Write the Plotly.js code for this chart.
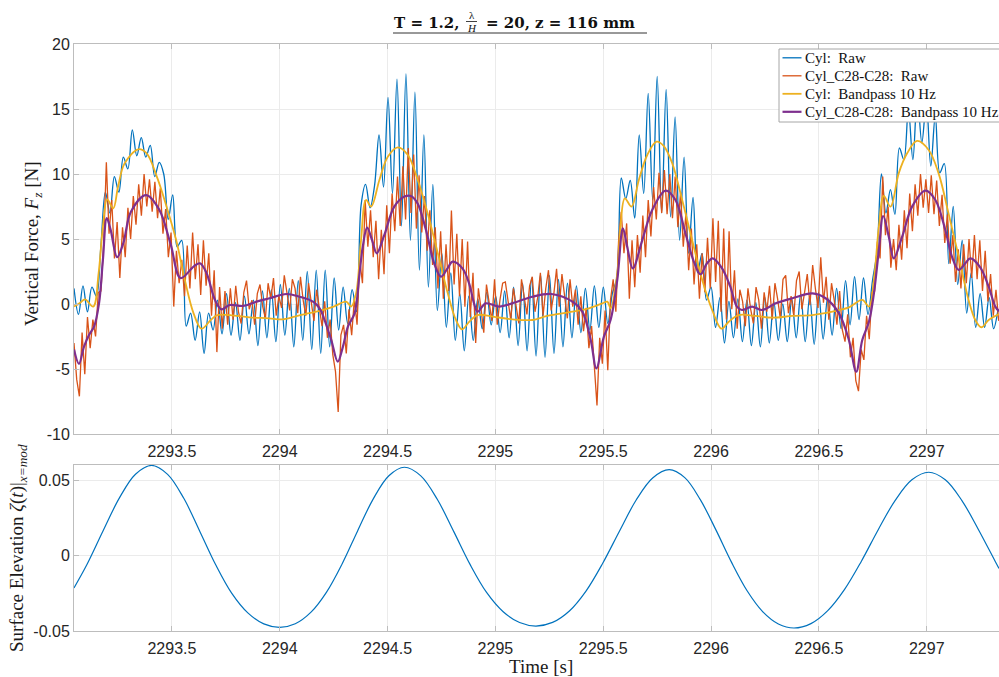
<!DOCTYPE html>
<html>
<head>
<meta charset="utf-8">
<script src="https://cdn.plot.ly/plotly-3.0.1.min.js"></script>
<style>
  html, body { margin: 0; padding: 0; background: #ffffff; }
  #chart { width: 999px; height: 677px; }
</style>
</head>
<body>
<div id="chart"></div>
<script>
// ---- Tick positions and labels ----
const timeTicks = [2293.5, 2294, 2294.5, 2295, 2295.5, 2296, 2296.5, 2297];
const timeTickText = ['2293.5', '2294', '2294.5', '2295', '2295.5', '2296', '2296.5', '2297'];
const forceTicks = [-10, -5, 0, 5, 10, 15, 20];
const forceTickText = ['-10', '-5', '0', '5', '10', '15', '20'];
const elevTicks = [-0.05, 0, 0.05];
const elevTickText = ['-0.05', '0', '0.05'];

// ---- Legend entries (order of the four force traces) ----
const seriesNames = ['Cyl:  Raw', 'Cyl_C28-C28:  Raw', 'Cyl:  Bandpass 10 Hz', 'Cyl_C28-C28:  Bandpass 10 Hz'];

// ---- Cyl: raw vertical force [N], sampled every 0.0208 s from t = 2293.046 s ----
const cylRawStart = 2293.046;
const cylRawStep = 0.0208;
const cylRaw = [
  1.2, -0.8, 1.4, -0.6, 1.3, 0.6, 4.5, 8.6, 7.0, 9.8,
  8.6, 11.3, 10.4, 13.4, 11.4, 12.8, 11.3, 12.2, 9.8, 10.9,
  10.0, 6.5, 8.4, 4.4, 4.9, -1.7, -0.7, -2.8, -0.6, -3.8,
  -0.7, -2.0, 0.3, -2.3, 0.8, -2.4, 0.1, -2.8, 0.6, -2.3,
  0.3, -3.2, 1.0, -2.6, 1.1, -2.9, 1.5, -2.4, 1.2, -3.3,
  1.8, -2.8, 2.5, -3.5, 2.6, -3.8, 2.6, -3.3, 2.0, -2.0,
  1.3, -1.5, 1.1, -0.6, 7.6, 9.2, 7.4, 9.1, 13.0, 9.0,
  15.9, 8.5, 17.3, 6.0, 17.7, 4.9, 16.3, 2.6, 13.0, 1.3,
  9.2, -0.5, 3.9, -1.8, 2.4, -2.8, 0.8, -3.6, 0.6, -2.8,
  0.4, -1.9, 0.9, -1.6, 0.6, -2.2, 1.0, -2.6, 1.3, -3.2,
  1.6, -3.6, 2.0, -4.0, 2.3, -4.1, 2.2, -3.8, 1.9, -3.3,
  1.6, -2.6, 1.4, -2.2, 1.2, -2.0, 1.4, -1.8, 1.3, -1.5,
  0.8, 2.0, 9.7, 8.1, 9.5, 6.6, 13.0, 8.5, 16.2, 8.0,
  17.5, 7.0, 16.5, 6.7, 14.4, 4.9, 11.3, 3.9, 8.2, 2.4,
  3.9, 0.3, 1.3, -1.8, 0.5, -3.0, 0.2, -2.6, 0.4, -2.9,
  0.3, -3.2, 0.1, -3.3, 0.5, -3.0, 0.2, -2.8, 0.0, -2.9,
  0.4, -2.6, 0.8, -2.9, 0.6, -3.1, 0.9, -2.7, 0.5, -2.4,
  1.2, -1.9, 1.8, -1.6, 2.1, -1.2, 2.0, -0.8, 1.8, 4.0,
  10.0, 7.0, 8.8, 6.9, 12.0, 11.1, 15.0, 11.1, 16.0, 12.4,
  15.5, 10.6, 14.5, 10.1, 10.8, 3.1, 7.5, 1.5, 4.9, -0.7,
  2.4, -1.8, 0.8, -1.8, 0.5, -1.9, -0.4
];

// ---- Cyl_C28-C28: raw vertical force [N], sampled every 0.0125 s from t = 2293.046 s ----
const c28RawStart = 2293.046;
const c28RawStep = 0.0125;
const c28Raw = [
  -3.0, -5.8, -7.1, -2.2, -5.4, -1.0, -3.4, -1.2, -2.5, 0.9,
  1.0, 4.6, 10.9, 5.4, 8.0, 3.5, 6.3, 2.0, 5.9, 3.6,
  7.4, 5.0, 8.3, 6.1, 9.2, 6.8, 10.0, 7.5, 9.6, 7.1,
  9.4, 6.6, 8.9, 5.4, 7.3, 3.6, 5.5, -0.2, 4.1, 1.6,
  3.4, 0.6, 4.5, 1.2, 5.5, 1.9, 4.6, 0.7, 4.9, 1.4,
  3.9, -0.9, 2.6, -3.7, 1.3, -1.9, 1.0, -1.6, 1.2, -1.2,
  1.4, -0.6, -1.5, 0.9, 1.8, -0.4, 0.3, -1.6, 0.8, 1.5,
  -0.2, -1.1, 1.6, 0.4, 2.0, -0.9, 0.6, -0.3, 2.2, 0.9,
  -0.5, 1.9, 1.2, -0.7, 2.1, 0.3, -0.9, 1.6, 0.2, -1.3,
  1.1, -0.4, -1.7, 0.2, -2.6, -1.2, -3.9, -5.2, -8.3, -2.4,
  -1.6, -3.8, -0.4, -2.4, 0.4, -1.6, 3.4, 1.6, 8.0, 4.4,
  7.2, 3.6, 6.4, 1.9, 5.7, 2.3, 7.6, 3.9, 8.5, 5.6,
  9.8, 6.0, 10.6, 6.5, 12.0, 7.0, 11.5, 5.8, 9.9, 5.5,
  8.3, 4.1, 7.2, 3.0, 5.9, 1.2, 5.6, 0.4, 4.6, 1.0,
  7.2, 1.5, 5.4, 0.6, 5.0, -0.2, 4.8, -1.0, 2.4, -3.0,
  1.2, -0.4, -2.2, 1.5, 0.2, -1.3, 1.9, -1.6, 0.3, 1.6,
  1.7, 0.2, -1.2, 1.2, -0.3, -1.5, 1.9, 0.6, -0.8, 1.4,
  2.1, -0.6, 0.5, 2.4, -0.9, 1.2, 2.6, -0.5, 0.8, 2.7,
  -0.2, 2.3, 0.4, -1.1, 1.9, -0.2, 1.1, -1.6, 0.6, -2.1,
  -0.3, -3.4, -1.7, -5.2, -7.8, -2.6, -4.6, -0.5, -5.1, 0.3,
  1.9, -0.6, 4.8, 7.1, 3.9, 6.2, 0.4, 4.9, 1.3, 5.3,
  2.4, 6.8, 3.6, 8.0, 5.2, 9.0, 6.5, 10.1, 7.0, 10.3,
  6.9, 10.0, 6.6, 9.8, 5.9, 8.6, 4.4, 7.0, 2.6, 5.8,
  1.5, 4.6, 0.4, 3.9, 0.9, 5.1, 1.2, 6.6, 1.7, 6.4,
  -0.6, 5.8, -1.2, 5.6, -0.4, 2.6, -1.9, 1.1, 0.2, -1.7,
  1.2, -0.4, -1.5, 1.3, 0.3, -1.9, 0.9, -0.6, 1.4, -1.2,
  1.6, 0.4, -1.1, 1.9, 2.2, -0.7, 0.6, -0.9, 1.8, 2.5,
  -0.4, 0.9, 2.3, -0.1, 3.0, 1.2, -0.3, 3.6, 0.1, 2.1,
  -1.2, 1.6, 0.3, -1.6, 1.0, -2.0, -2.9, -0.8, -4.1, -2.6,
  -5.9, -6.7, -3.5, -4.3, -0.9, -2.7, 0.9, 1.0, 4.8, 3.5,
  9.8, 5.3, 7.5, 2.8, 5.0, 2.6, 6.1, 3.4, 7.2, 4.3,
  8.5, 5.6, 9.2, 6.8, 10.0, 7.4, 9.6, 7.0, 9.9, 6.9,
  9.5, 6.0, 8.4, 4.7, 6.9, 3.1, 5.3, 1.7, 4.2, 1.2,
  4.6, 1.6, 5.0, 2.0, 5.3, 1.9, 4.9, 1.0, 4.1, 0.2,
  2.3, -0.9, 1.1, -1.3
];

// ---- Cyl: bandpass-filtered force (10 Hz) ----
const cylBandT = [
  2293.046, 2293.075, 2293.097, 2293.135, 2293.160, 2293.180, 2293.200, 2293.228, 2293.250, 2293.280,
  2293.344, 2293.382, 2293.430, 2293.475, 2293.520, 2293.560, 2293.600, 2293.637, 2293.680, 2293.710,
  2293.770, 2293.860, 2293.950, 2294.010, 2294.070, 2294.130, 2294.170, 2294.250, 2294.308, 2294.331,
  2294.354, 2294.377, 2294.400, 2294.424, 2294.462, 2294.501, 2294.548, 2294.594, 2294.640, 2294.686,
  2294.733, 2294.779, 2294.817, 2294.845, 2294.879, 2294.917, 2294.987, 2295.079, 2295.171, 2295.240,
  2295.357, 2295.434, 2295.496, 2295.519, 2295.534, 2295.565, 2295.580, 2295.600, 2295.631, 2295.665,
  2295.704, 2295.747, 2295.781, 2295.820, 2295.866, 2295.912, 2295.959, 2296.005, 2296.048, 2296.082,
  2296.128, 2296.205, 2296.282, 2296.377, 2296.470, 2296.562, 2296.639, 2296.701, 2296.732, 2296.755,
  2296.778, 2296.801, 2296.832, 2296.870, 2296.909, 2296.955, 2297.009, 2297.055, 2297.101, 2297.148,
  2297.194, 2297.225, 2297.253, 2297.287, 2297.335
];
const cylBand = [
  -0.2, 0.1, 0.36, -0.2, 2.36, 5.95, 8.05, 7.36, 9.0, 10.8,
  11.9, 11.6, 9.8, 7.5, 4.9, 1.85, -0.7, -1.9, -1.23, -0.85,
  -0.85, -1.03, -1.1, -1.18, -0.97, -0.72, -0.59, -0.2, 0.18, -0.2,
  0.82, 4.92, 8.0, 7.49, 9.54, 11.33, 12.05, 11.46, 9.54, 6.97,
  3.9, 0.82, -1.23, -1.95, -1.36, -0.85, -0.97, -1.18, -1.23, -0.92,
  -0.59, -0.33, 0.05, 0.18, -0.33, 2.36, 5.95, 8.13, 7.49, 9.54,
  11.46, 12.49, 12.15, 10.82, 8.0, 4.92, 1.85, -0.46, -1.9, -1.36,
  -0.85, -0.92, -1.05, -0.92, -0.85, -0.59, -0.26, 0.31, -0.2, 1.85,
  5.95, 8.31, 7.49, 10.05, 11.59, 12.54, 11.85, 10.05, 6.97, 3.64,
  0.31, -1.23, -1.79, -1.23, -0.77
];

// ---- Cyl_C28-C28: bandpass-filtered force (10 Hz) ----
const c28BandT = [
  2293.046, 2293.069, 2293.092, 2293.115, 2293.139, 2293.162, 2293.180, 2293.198, 2293.216, 2293.246,
  2293.275, 2293.310, 2293.380, 2293.440, 2293.494, 2293.540, 2293.602, 2293.630, 2293.660, 2293.700,
  2293.730, 2293.768, 2293.830, 2293.892, 2293.953, 2294.031, 2294.092, 2294.154, 2294.185, 2294.205,
  2294.239, 2294.269, 2294.293, 2294.316, 2294.347, 2294.370, 2294.385, 2294.405, 2294.428, 2294.450,
  2294.485, 2294.531, 2294.578, 2294.608, 2294.639, 2294.678, 2294.716, 2294.747, 2294.778, 2294.801,
  2294.847, 2294.878, 2294.901, 2294.917, 2294.955, 2295.017, 2295.078, 2295.171, 2295.260, 2295.357,
  2295.403, 2295.442, 2295.468, 2295.503, 2295.534, 2295.565, 2295.591, 2295.611, 2295.637, 2295.681,
  2295.727, 2295.789, 2295.835, 2295.881, 2295.920, 2295.951, 2295.981, 2296.008, 2296.051, 2296.089,
  2296.120, 2296.143, 2296.190, 2296.236, 2296.300, 2296.377, 2296.470, 2296.531, 2296.593, 2296.639,
  2296.673, 2296.701, 2296.732, 2296.755, 2296.778, 2296.798, 2296.824, 2296.847, 2296.886, 2296.932,
  2296.994, 2297.040, 2297.086, 2297.117, 2297.148, 2297.179, 2297.202, 2297.248, 2297.287, 2297.318,
  2297.335
];
const c28Band = [
  -3.5, -4.6, -3.3, -2.4, -1.74, 0.05, 3.4, 6.6, 5.7, 3.6,
  4.7, 7.1, 8.38, 7.3, 4.6, 2.0, 2.9, 3.13, 2.4, 0.3,
  -0.41, -0.08, -0.15, 0.18, 0.44, 0.77, 0.56, 0.18, -0.33, -1.1,
  -2.77, -4.44, -3.28, -1.74, -0.72, 2.36, 4.41, 5.87, 4.92, 3.9,
  5.31, 7.49, 8.26, 8.31, 7.74, 5.69, 3.13, 2.1, 2.74, 3.26,
  2.74, 1.59, 0.05, -0.59, 0.05, -0.2, 0.05, 0.56, 0.77, 0.18,
  -0.59, -2.77, -4.95, -2.51, -1.23, 1.85, 5.82, 4.41, 2.74, 4.92,
  7.23, 8.72, 8.0, 5.44, 3.26, 2.28, 3.13, 3.51, 2.74, 1.33,
  -0.2, -0.46, -0.2, -0.46, 0.05, 0.44, 0.82, 0.44, -0.72, -2.77,
  -5.21, -2.77, -1.36, 0.82, 4.15, 6.77, 5.18, 3.51, 5.18, 7.49,
  8.72, 8.0, 5.69, 3.64, 2.62, 3.13, 3.51, 2.82, 1.33, -0.2,
  -0.55
];

// ---- Surface elevation at the model position [m] ----
const elevT = [
  2293.046, 2293.106, 2293.181, 2293.256, 2293.331, 2293.406, 2293.480, 2293.555, 2293.629, 2293.703,
  2293.777, 2293.852, 2293.926, 2294.000, 2294.072, 2294.145, 2294.217, 2294.289, 2294.361, 2294.433,
  2294.506, 2294.578, 2294.654, 2294.731, 2294.807, 2294.883, 2294.959, 2295.036, 2295.112, 2295.188,
  2295.265, 2295.343, 2295.420, 2295.497, 2295.575, 2295.652, 2295.729, 2295.806, 2295.878, 2295.950,
  2296.023, 2296.095, 2296.167, 2296.239, 2296.312, 2296.384, 2296.463, 2296.541, 2296.619, 2296.697,
  2296.775, 2296.853, 2296.931, 2297.009, 2297.086, 2297.163, 2297.240, 2297.317, 2297.335
];
const elev = [
  -0.0214, -0.0059, 0.0165, 0.0381, 0.0540, 0.0598, 0.0539, 0.0380, 0.0162, -0.0061,
  -0.0249, -0.0380, -0.0453, -0.0476, -0.0452, -0.0375, -0.0242, -0.0055, 0.0164, 0.0375,
  0.0530, 0.0586, 0.0529, 0.0372, 0.0159, -0.0060, -0.0244, -0.0372, -0.0444, -0.0467,
  -0.0443, -0.0367, -0.0235, -0.0052, 0.0162, 0.0367, 0.0515, 0.0570, 0.0517, 0.0371,
  0.0169, -0.0045, -0.0233, -0.0371, -0.0453, -0.0480, -0.0451, -0.0365, -0.0224, -0.0037,
  0.0172, 0.0365, 0.0503, 0.0553, 0.0503, 0.0365, 0.0172, -0.0037, -0.0085
];

// sample instants of the two raw records
const cylRawT = cylRaw.map((_, i) => cylRawStart + i * cylRawStep);
const c28RawT = c28Raw.map((_, i) => c28RawStart + i * c28RawStep);

const BLUE = '#0072BD', ORANGE = '#D95319', YELLOW = '#EDB120', PURPLE = '#7E2F8E';
const SERIF = '"Liberation Serif", "Times New Roman", serif';
const SANS = '"Liberation Sans", Arial, Helvetica, sans-serif';
const TEXT = '#262626';
const XRANGE = [2293.046, 2297.335];

const seriesColors = [BLUE, ORANGE, YELLOW, PURPLE];
const seriesWidths = [1.3, 1.3, 1.8, 2.2];

const traces = [
  { x: cylRawT, y: cylRaw, type: 'scatter', mode: 'lines', name: seriesNames[0],
    line: { color: BLUE, width: seriesWidths[0], shape: 'spline', smoothing: 1 }, xaxis: 'x', yaxis: 'y' },
  { x: c28RawT, y: c28Raw, type: 'scatter', mode: 'lines', name: seriesNames[1],
    line: { color: ORANGE, width: seriesWidths[1] }, xaxis: 'x', yaxis: 'y' },
  { x: cylBandT, y: cylBand, type: 'scatter', mode: 'lines', name: seriesNames[2],
    line: { color: YELLOW, width: seriesWidths[2], shape: 'spline', smoothing: 1 }, xaxis: 'x', yaxis: 'y' },
  { x: c28BandT, y: c28Band, type: 'scatter', mode: 'lines', name: seriesNames[3],
    line: { color: PURPLE, width: seriesWidths[3], shape: 'spline', smoothing: 1 }, xaxis: 'x', yaxis: 'y' },
  { x: elevT, y: elev, type: 'scatter', mode: 'lines', name: 'elevation',
    line: { color: BLUE, width: 1.2, shape: 'spline', smoothing: 1 }, xaxis: 'x2', yaxis: 'y2' }
];

const axisCommon = {
  showline: true, linecolor: '#bdbdbd', linewidth: 1,
  ticks: 'inside', ticklen: 5, tickcolor: '#bdbdbd',
  showgrid: true, gridcolor: '#ebebeb', gridwidth: 1,
  zeroline: false,
  tickfont: { family: SANS, size: 16, color: TEXT }
};

// Legend box in the upper right corner, laid out in paper units of the force panel
const PLOT_L = 74, PLOT_W = 925, PLOT_B = 631, PLOT_H = 587;
const px = v => (v - PLOT_L) / PLOT_W;
const py = v => (PLOT_B - v) / PLOT_H;
const legendRows = [57.8, 75.8, 93.8, 111.8];

const shapes = [
  // rule under the heading
  { type: 'line', xref: 'paper', yref: 'paper', x0: px(393), x1: px(647), y0: py(33), y1: py(33),
    line: { color: '#333333', width: 1 } },
  // fraction bar of lambda / H
  { type: 'line', xref: 'paper', yref: 'paper', x0: px(466), x1: px(477), y0: py(21.5), y1: py(21.5),
    line: { color: '#111111', width: 0.8 } },
  // legend frame
  { type: 'rect', xref: 'paper', yref: 'paper', x0: px(779), x1: px(1010), y0: py(122), y1: py(49),
    fillcolor: '#ffffff', line: { color: '#a6a6a6', width: 1 } }
];
const annotations = [
  { xref: 'paper', yref: 'paper', x: px(462), y: py(23), xanchor: 'right', yanchor: 'middle',
    text: '<b>T = 1.2,</b>', showarrow: false,
    font: { family: '"DejaVu Serif", serif', size: 15, color: '#111111' } },
  { xref: 'paper', yref: 'paper', x: px(471.5), y: py(15), xanchor: 'center', yanchor: 'middle',
    text: 'λ', showarrow: false,
    font: { family: SERIF, size: 11, color: '#111111' } },
  { xref: 'paper', yref: 'paper', x: px(471.5), y: py(28.5), xanchor: 'center', yanchor: 'middle',
    text: '<i>H</i>', showarrow: false,
    font: { family: SERIF, size: 11, color: '#111111' } },
  { xref: 'paper', yref: 'paper', x: px(484), y: py(23), xanchor: 'left', yanchor: 'middle',
    text: '<b>= 20, z = 116 mm</b>', showarrow: false,
    font: { family: '"DejaVu Serif", serif', size: 15, color: '#111111' } },
  { xref: 'paper', yref: 'paper', x: px(33), y: py(244), xanchor: 'center', yanchor: 'middle',
    textangle: -90, showarrow: false,
    text: 'Vertical Force, <i>F<sub>z</sub></i> [N]',
    font: { family: SERIF, size: 19, color: '#1a1a1a' } },
  { xref: 'paper', yref: 'paper', x: px(18), y: py(548), xanchor: 'center', yanchor: 'middle',
    textangle: -90, showarrow: false,
    text: 'Surface Elevation <i>ζ</i>(<i>t</i>)|<sub><i>x=mod</i></sub>',
    font: { family: SERIF, size: 19, color: '#1a1a1a' } },
  { xref: 'paper', yref: 'paper', x: px(541), y: py(666), xanchor: 'center', yanchor: 'middle',
    text: 'Time [s]', showarrow: false,
    font: { family: SERIF, size: 19, color: '#1a1a1a' } }
];
legendRows.forEach((row, k) => {
  shapes.push({ type: 'line', xref: 'paper', yref: 'paper', x0: px(782.5), x1: px(801.5),
    y0: py(row), y1: py(row), line: { color: seriesColors[k], width: Math.max(1.3, seriesWidths[k]) } });
  annotations.push({ xref: 'paper', yref: 'paper', x: px(803), y: py(row), xanchor: 'left', yanchor: 'middle',
    text: seriesNames[k], showarrow: false,
    font: { family: SERIF, size: 15, color: '#111111' } });
});

const layout = {
  width: 999, height: 677,
  margin: { l: PLOT_L, r: 0, t: 44, b: 46 },
  paper_bgcolor: '#ffffff', plot_bgcolor: '#ffffff',
  showlegend: false,
  xaxis: Object.assign({}, axisCommon, {
    domain: [0, 1], anchor: 'y', range: XRANGE, mirror: 'ticks',
    tickmode: 'array', tickvals: timeTicks, ticktext: timeTickText, ticklabelstandoff: 3
  }),
  yaxis: Object.assign({}, axisCommon, {
    domain: [0.3356, 1], anchor: 'x', range: [-10, 20],
    tickmode: 'array', tickvals: forceTicks, ticktext: forceTickText
  }),
  xaxis2: Object.assign({}, axisCommon, {
    domain: [0, 1], anchor: 'y2', range: XRANGE, mirror: 'ticks',
    tickmode: 'array', tickvals: timeTicks, ticktext: timeTickText, ticklabelstandoff: 3
  }),
  yaxis2: Object.assign({}, axisCommon, {
    domain: [0, 0.2828], anchor: 'x2', range: [-0.05, 0.0601],
    tickmode: 'array', tickvals: elevTicks, ticktext: elevTickText
  }),
  shapes: shapes,
  annotations: annotations
};

Plotly.newPlot('chart', traces, layout, { staticPlot: true, displayModeBar: false });
</script>
</body>
</html>
